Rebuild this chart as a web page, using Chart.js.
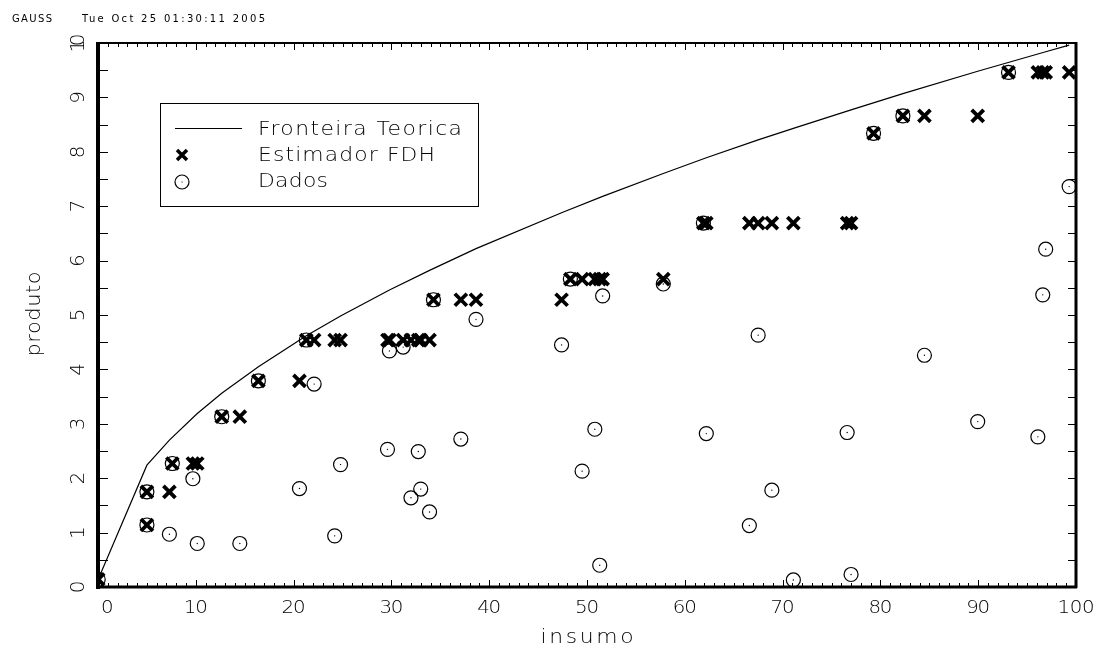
<!DOCTYPE html>
<html>
<head>
<meta charset="utf-8">
<script src="https://cdn.jsdelivr.net/npm/chart.js@4.4.1/dist/chart.umd.min.js"></script>
<style>
  html, body { margin: 0; padding: 0; background: #fff; }
  canvas { display: block; }
</style>
</head>
<body>
<canvas id="grafico" width="1101" height="652"></canvas>
<script>
// dados (insumo x produto)
const insumo  = [0.02, 5.0, 5.0, 7.3, 7.6, 9.7, 10.15, 12.65, 14.5, 16.4,
                 20.6, 21.3, 22.1, 24.2, 24.8, 29.6, 29.8, 31.2, 32.0, 32.75,
                 33.0, 33.9, 34.3, 37.1, 38.65, 47.4, 48.3, 49.5, 50.8, 51.3,
                 51.6, 57.8, 61.9, 62.2, 66.6, 67.5, 68.9, 71.1, 76.6, 77.0,
                 79.3, 82.3, 84.5, 89.95, 93.1, 96.1, 96.6, 96.9, 99.3];
const produto = [0.14, 1.14, 1.75, 0.97, 2.27, 1.99, 0.80, 3.13, 0.80, 3.79,
                 1.81, 4.54, 3.73, 0.94, 2.25, 2.53, 4.34, 4.41, 1.64, 2.49,
                 1.80, 1.38, 5.28, 2.72, 4.92, 4.45, 5.66, 2.13, 2.90, 0.40,
                 5.35, 5.57, 6.69, 2.82, 1.13, 4.63, 1.78, 0.13, 2.84, 0.23,
                 8.34, 8.66, 4.26, 3.04, 9.46, 2.76, 5.37, 6.21, 7.36];
// estimador FDH em cada insumo
const fdh     = [0.14, 1.14, 1.75, 1.75, 2.27, 2.27, 2.27, 3.13, 3.13, 3.79,
                 3.79, 4.54, 4.54, 4.54, 4.54, 4.54, 4.54, 4.54, 4.54, 4.54,
                 4.54, 4.54, 5.28, 5.28, 5.28, 5.28, 5.66, 5.66, 5.66, 5.66,
                 5.66, 5.66, 6.69, 6.69, 6.69, 6.69, 6.69, 6.69, 6.69, 6.69,
                 8.34, 8.66, 8.66, 8.66, 9.46, 9.46, 9.46, 9.46, 9.46];
// fronteira teorica
const fronteiraX = [0.02, 5.0, 7.3, 10.15, 12.65, 16.4, 21.3, 24.8, 29.8, 33.9, 38.65,
                    47.4, 51.6, 57.8, 62.2, 67.5, 71.1, 77.0, 82.3, 89.95, 96.9, 99.3];
const fronteiraY = [0.14, 2.24, 2.70, 3.19, 3.56, 4.05, 4.62, 4.98, 5.46, 5.82, 6.22,
                    6.88, 7.18, 7.60, 7.89, 8.22, 8.43, 8.77, 9.07, 9.48, 9.84, 9.96];
const xTicks = [0, 10, 20, 30, 40, 50, 60, 70, 80, 90, 100];
const yTicks = [0, 1, 2, 3, 4, 5, 6, 7, 8, 9, 10];

const FONTE = '"DejaVu Sans", sans-serif';

function pontos(xs, ys) {
    return xs.map((v, i) => ({x: v, y: ys[i]}));
}

// escreve texto esticado ate uma largura; alinhamento 'center' ou 'left', opcionalmente girado
function texto(ctx, s, x, cy, font, largura, alinha, rot, estica) {
    const sx = estica || 1;
    ctx.save();
    ctx.font = font;
    ctx.letterSpacing = '0px';
    const w = ctx.measureText(s).width * sx;
    let ls = 0;
    if (largura && s.length > 1) ls = (largura - w) / (s.length - 1);
    const total = w + ls * (s.length - 1);
    ctx.translate(x, cy);
    if (rot) ctx.rotate(rot);
    ctx.scale(sx, 1);
    ctx.letterSpacing = (ls / sx) + 'px';
    ctx.textAlign = 'left';
    ctx.textBaseline = 'middle';
    ctx.fillStyle = '#000';
    ctx.fillText(s, alinha === 'left' ? 0 : -total / 2 / sx, 0);
    ctx.restore();
}

const moldura = {
    id: 'moldura',
    afterDraw(chart) {
        const {ctx, chartArea: a, scales: {x, y}} = chart;
        ctx.save();
        ctx.strokeStyle = '#000';
        ctx.lineWidth = 1;

        // marcas dos eixos
        ctx.beginPath();
        for (let v = 0; v <= 100; v++) {
            const px = Math.round(x.getPixelForValue(v)) + 0.5;
            const len = v % 10 === 0 ? 7 : 4;
            ctx.moveTo(px, a.bottom); ctx.lineTo(px, a.bottom - len);
            ctx.moveTo(px, a.top); ctx.lineTo(px, a.top + len);
        }
        for (let v = 0; v <= 10; v += 0.5) {
            const py = Math.round(y.getPixelForValue(v)) + 0.5;
            ctx.moveTo(a.left, py); ctx.lineTo(a.left + 10, py);
            ctx.moveTo(a.right, py); ctx.lineTo(a.right - 8, py);
        }
        ctx.stroke();

        // moldura
        ctx.lineWidth = 4;
        ctx.beginPath(); ctx.moveTo(a.left, a.top - 1); ctx.lineTo(a.left, a.bottom + 2); ctx.stroke();
        ctx.lineWidth = 3;
        ctx.beginPath(); ctx.moveTo(a.left, a.bottom); ctx.lineTo(a.right + 1, a.bottom); ctx.stroke();
        ctx.beginPath(); ctx.moveTo(a.right, a.top - 1); ctx.lineTo(a.right, a.bottom + 1); ctx.stroke();
        ctx.lineWidth = 2;
        ctx.beginPath(); ctx.moveTo(a.left, a.top); ctx.lineTo(a.right, a.top); ctx.stroke();
        ctx.restore();

        // rotulos
        const fTick = '200 18px ' + FONTE;
        xTicks.forEach(v => {
            const s = String(v);
            const px = x.getPixelForValue(v);
            const larg = s.length === 1 ? 0 : s.length * 13 - 2;
            if (v === 0) texto(ctx, s, px + 3, a.bottom + 21, fTick, 0, 'left', 0, 1.1);
            else texto(ctx, s, px, a.bottom + 21, fTick, larg, 'center', 0, 1.1);
        });
        yTicks.forEach(v => {
            const s = String(v);
            const py = y.getPixelForValue(v);
            texto(ctx, s, a.left - 19, py, '200 20px ' + FONTE, s.length === 1 ? 0 : 19, 'center', -Math.PI / 2);
        });
        texto(ctx, 'insumo', (a.left + a.right) / 2, 638, '200 19px ' + FONTE, 93, 'center', 0, 1.15);
        texto(ctx, 'produto', 35, 314, '200 19px ' + FONTE, 85, 'center', -Math.PI / 2, 1.1);

        // cabecalho
        texto(ctx, 'GAUSS', 12, 19, '10px "DejaVu Sans"', 40, 'left');
        texto(ctx, 'Tue Oct 25 01:30:11 2005', 82, 19, '10px "DejaVu Sans"', 183, 'left');

        // legenda
        ctx.save();
        ctx.strokeStyle = '#000';
        ctx.lineWidth = 1;
        ctx.strokeRect(160.5, 103.5, 318, 103);
        ctx.beginPath(); ctx.moveTo(175, 128.5); ctx.lineTo(242, 128.5); ctx.stroke();
        ctx.lineWidth = 3.5;
        ctx.beginPath();
        ctx.moveTo(177, 150); ctx.lineTo(187, 160);
        ctx.moveTo(187, 150); ctx.lineTo(177, 160);
        ctx.stroke();
        ctx.lineWidth = 1.2;
        ctx.beginPath(); ctx.arc(182, 182, 7, 0, Math.PI * 2); ctx.stroke();
        ctx.fillStyle = '#000';
        ctx.fillRect(181.5, 181.5, 1, 1);
        ctx.restore();
        const fLeg = '200 19px ' + FONTE;
        texto(ctx, chart.data.datasets[3].label, 258, 130, fLeg, 204, 'left', 0, 1.15);
        texto(ctx, chart.data.datasets[0].label, 258, 156, fLeg, 177, 'left', 0, 1.15);
        texto(ctx, chart.data.datasets[1].label, 258, 182, fLeg, 70, 'left', 0, 1.15);
    }
};

new Chart(document.getElementById('grafico').getContext('2d'), {
    type: 'scatter',
    data: {
        datasets: [
            {
                label: 'Estimador FDH',
                data: pontos(insumo, fdh),
                pointStyle: 'crossRot',
                pointRadius: 8.5,
                pointBorderWidth: 3.8,
                pointBorderColor: '#000',
                pointBackgroundColor: '#000',
                order: 0,
                clip: 0
            },
            {
                label: 'Dados',
                data: pontos(insumo, produto),
                pointStyle: 'circle',
                pointRadius: 7,
                pointBorderWidth: 1.2,
                pointBorderColor: '#000',
                pointBackgroundColor: 'rgba(0,0,0,0)',
                order: 1,
                clip: 0
            },
            {
                label: 'centro',
                data: pontos(insumo, produto),
                pointRadius: 0.7,
                pointBorderWidth: 0,
                pointBackgroundColor: '#000',
                order: 1,
                clip: 0
            },
            {
                label: 'Fronteira Teorica',
                data: pontos(fronteiraX, fronteiraY),
                showLine: true,
                borderColor: '#000',
                borderWidth: 1.2,
                pointRadius: 0,
                tension: 0,
                order: 2,
                clip: 0
            }
        ]
    },
    options: {
        responsive: false,
        animation: false,
        events: [],
        layout: { padding: { left: 98, right: 25, top: 43, bottom: 65 } },
        scales: {
            x: { type: 'linear', min: 0, max: 100, display: false },
            y: { type: 'linear', min: 0, max: 10, display: false }
        },
        plugins: {
            legend: { display: false },
            tooltip: { enabled: false }
        }
    },
    plugins: [moldura]
});
</script>
</body>
</html>
